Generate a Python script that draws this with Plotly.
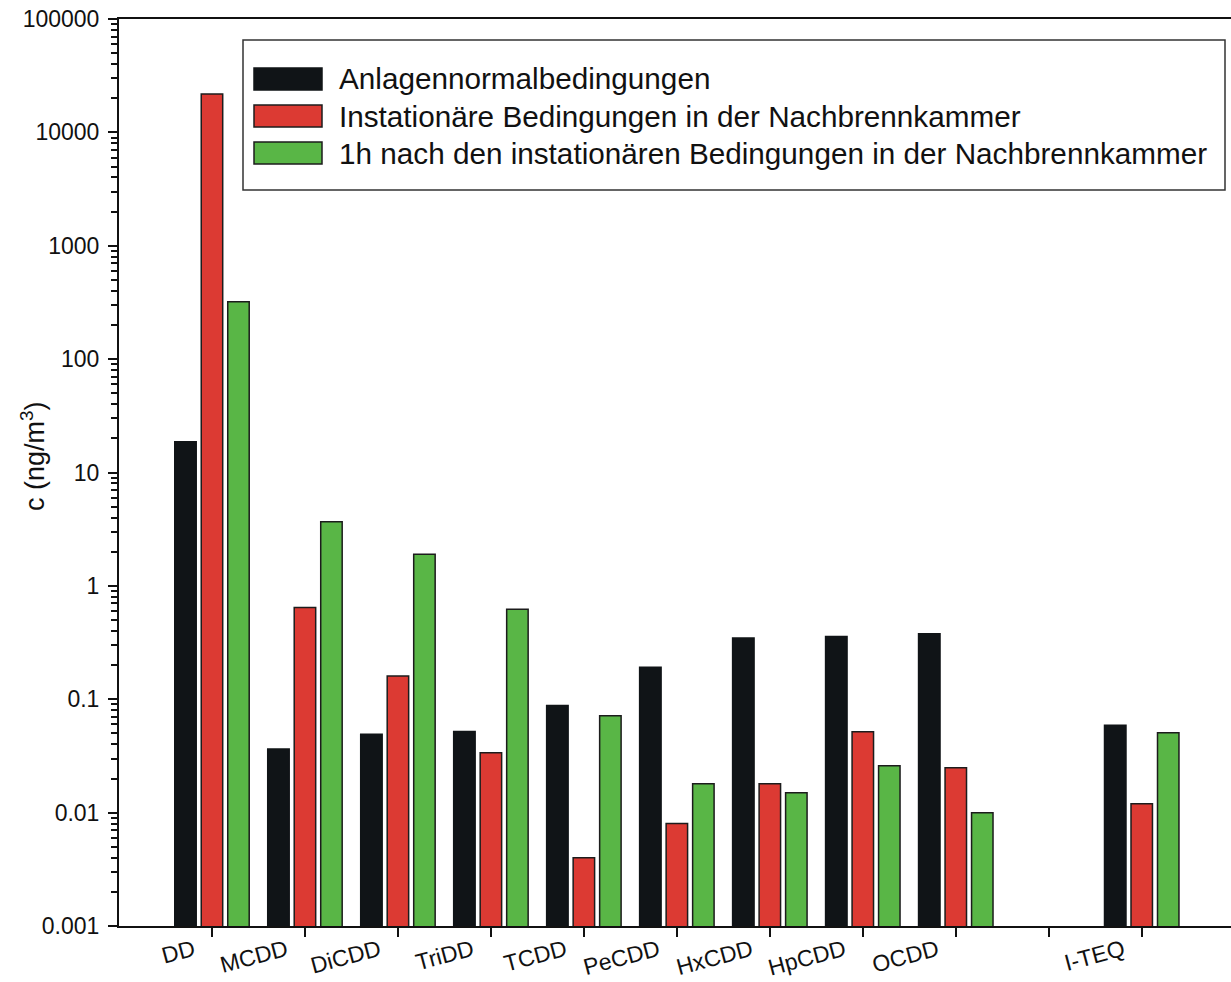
import plotly.graph_objects as go

# Congener groups (blank slot separates the I-TEQ group)
categories = ["DD", "MCDD", "DiCDD", "TriDD", "TCDD", "PeCDD", "HxCDD",
              "HpCDD", "OCDD", " ", "I-TEQ"]

series_names = [
    "Anlagennormalbedingungen",
    "Instationäre Bedingungen in der Nachbrennkammer",
    "1h nach den instationären Bedingungen in der Nachbrennkammer",
]

# Concentrations in ng/m3
normal = [18.7, 0.0365, 0.049, 0.052, 0.088, 0.192, 0.347, 0.358, 0.378, None, 0.059]
instationaer = [21800, 0.646, 0.160, 0.0338, 0.0040, 0.0080, 0.0180, 0.0517, 0.0249, None, 0.0120]
nach_1h = [320, 3.68, 1.90, 0.621, 0.0716, 0.0180, 0.0150, 0.0259, 0.0100, None, 0.0507]

y_tickvals = [0.001, 0.01, 0.1, 1, 10, 100, 1000, 10000, 100000]
y_ticktext = ["0.001", "0.01", "0.1", "1", "10", "100", "1000", "10000", "100000"]

colors = ["#101417", "#dc3a33", "#59b646"]
line_colors = ["#101417", "#1c1c1c", "#1c1c1c"]

FONT = "Liberation Sans, Arial, sans-serif"
W, H = 1231, 982
L, R, T, B = 119, 0, 19, 56

fig = go.Figure()
for name, vals, c, lc in zip(series_names, [normal, instationaer, nach_1h], colors, line_colors):
    fig.add_trace(go.Bar(
        x=categories, y=vals, name=name,
        marker=dict(color=c, line=dict(color=lc, width=1.5)),
        showlegend=False,
    ))

# pixel -> paper helpers for the hand-built legend
def px(x):
    return (x - L) / (W - L - R)

def py(y):
    return (H - B - y) / (H - T - B)

shapes = [dict(type="rect", xref="paper", yref="paper",
               x0=px(243), x1=px(1225), y0=py(190), y1=py(40),
               line=dict(color="#333333", width=1.5), fillcolor="white", layer="above")]
annotations = []
row_centers = [79, 116, 153]
for name, c, lc, yc in zip(series_names, colors, line_colors, row_centers):
    shapes.append(dict(type="rect", xref="paper", yref="paper",
                       x0=px(254), x1=px(322), y0=py(yc + 11), y1=py(yc - 11),
                       fillcolor=c, line=dict(color=lc, width=1.5), layer="above"))
    annotations.append(dict(text=name, xref="paper", yref="paper",
                            x=px(337), y=py(yc), xanchor="left", yanchor="middle",
                            showarrow=False, font=dict(family=FONT, size=29.7, color="#111111")))

annotations.append(dict(text="c (ng/m<sup>3</sup>)", xref="paper", yref="paper",
                        x=px(33), y=py(456), textangle=-90, xanchor="center", yanchor="middle",
                        showarrow=False, font=dict(family=FONT, size=27, color="#111111")))

fig.update_layout(
    width=W, height=H,
    margin=dict(l=L, r=R, t=T, b=B),
    plot_bgcolor="white", paper_bgcolor="white",
    barmode="group", bargap=0.145, bargroupgap=0.19,
    font=dict(family=FONT, color="#111111"),
    shapes=shapes, annotations=annotations,
)

# trailing no-break spaces pull the slanted labels left of their ticks
x_ticktext = [c + "\u00a0" * 3 for c in categories]

fig.update_xaxes(
    type="category", range=[-1, 10.96], automargin=False,
    tickmode="array", tickvals=categories, ticktext=x_ticktext,
    showline=True, linecolor="#111111", linewidth=2, mirror=True,
    ticks="outside", ticklen=9, tickwidth=2, tickcolor="#111111",
    tickangle=-15, tickfont=dict(family=FONT, size=23, color="#111111"),
    ticklabelstandoff=-14,
    showgrid=False, zeroline=False,
)

fig.update_yaxes(
    type="log", range=[-3, 5], automargin=False,
    tickmode="array", tickvals=y_tickvals, ticktext=y_ticktext,
    showline=True, linecolor="#111111", linewidth=2,
    ticks="outside", ticklen=9, tickwidth=2, tickcolor="#111111",
    minor=dict(ticks="outside", ticklen=6, tickwidth=1.5, tickcolor="#111111", dtick="D1", showgrid=False),
    tickfont=dict(family=FONT, size=23, color="#111111"),
    ticklabelstandoff=4,
    showgrid=False, zeroline=False,
)

fig.write_html("out.html")
